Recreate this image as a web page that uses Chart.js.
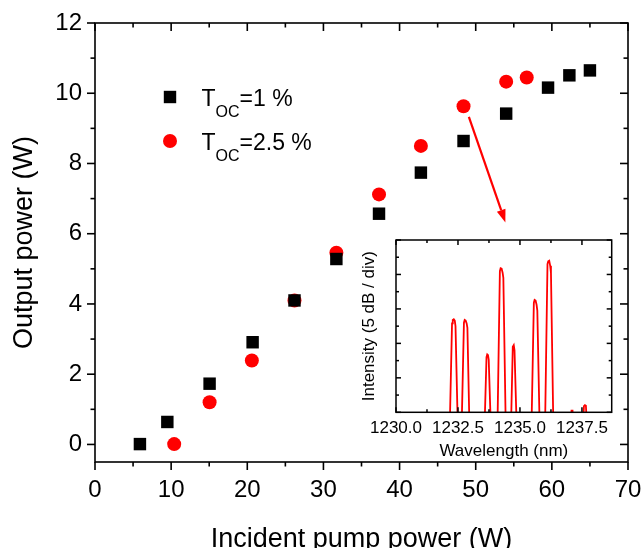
<!DOCTYPE html>
<html>
<head>
<meta charset="utf-8">
<script src="https://cdn.jsdelivr.net/npm/chart.js@4.4.1/dist/chart.umd.min.js"></script>
<style>
  body { margin: 0; background: #fff; }
  #wrap { position: relative; width: 644px; height: 548px; }
  #main { position: absolute; left: 0; top: 0; }
  #inset { position: absolute; left: 340px; top: 228px; }
</style>
</head>
<body>
<div id="wrap">
  <canvas id="main" width="644" height="548"></canvas>
  <canvas id="inset" width="290" height="240"></canvas>
</div>
<script>
const FONT = '"Liberation Sans", Arial, Helvetica, sans-serif';

// output power vs incident pump power, T_OC = 1 %
const pump1 = [5.9, 9.5, 15.05, 20.7, 26.2, 31.7, 37.3, 42.8, 48.4, 54.0, 59.5, 62.3, 65.0];
const out1  = [0.01, 0.64, 1.73, 2.91, 4.10, 5.28, 6.57, 7.74, 8.64, 9.42, 10.16, 10.51, 10.65];
// T_OC = 2.5 %
const pump2 = [10.4, 15.05, 20.6, 26.2, 31.7, 37.3, 42.8, 48.4, 54.0, 56.7];
const out2  = [0.01, 1.20, 2.39, 4.10, 5.46, 7.12, 8.50, 9.63, 10.33, 10.45];

const legendItems = [
  { sub: 'OC', text: '=1 %', color: '#000000', shape: 'rect' },
  { sub: 'OC', text: '=2.5 %', color: '#ff0000', shape: 'circle' }
];

// arrow from the 48 W point down to the inset (data units)
const arrowFrom = [49.1, 9.33];
const arrowTo = [53.9, 6.32];

// inset spectrum, intensity in divisions of 5 dB
const specWl = [1230.0, 1232.15, 1232.26, 1232.29, 1232.33, 1232.37, 1232.40, 1232.51,
  1232.63, 1232.74, 1232.77, 1232.81, 1232.85, 1232.88, 1232.98,
  1233.55, 1233.65, 1233.68, 1233.71, 1233.74, 1233.85,
  1234.08, 1234.19, 1234.22, 1234.26, 1234.30, 1234.33, 1234.44,
  1234.62, 1234.71, 1234.75, 1234.78, 1234.89,
  1235.45, 1235.56, 1235.59, 1235.63, 1235.67, 1235.70, 1235.81,
  1236.00, 1236.11, 1236.14, 1236.18, 1236.22, 1236.25, 1236.36,
  1237.02, 1237.08, 1237.12, 1237.18,
  1237.50, 1237.58, 1237.62, 1237.66, 1237.74, 1238.7];
const specDb = [-1, -1, 2.58, 2.68, 2.70, 2.66, 2.50, -1,
  -1, 2.60, 2.68, 2.66, 2.58, 2.45, -1,
  -1, 1.60, 1.68, 1.66, 1.52, -1,
  -1, 4.10, 4.18, 4.17, 4.05, 3.90, -1,
  -1, 1.90, 1.95, 1.80, -1,
  -1, 3.18, 3.26, 3.24, 3.12, 2.95, -1,
  -1, 4.30, 4.38, 4.40, 4.25, 4.05, -1,
  -1, 0.05, 0.05, -1,
  -1, 0.18, 0.21, 0.19, -1, -1];

// box + ticks on all four sides
const frameTicks = {
  id: 'frame',
  afterDraw(chart, args, o) {
    const {ctx, chartArea: a, scales: {x, y}} = chart;
    ctx.save();
    ctx.strokeStyle = '#000';
    ctx.lineWidth = o.lineWidth;
    ctx.lineCap = 'square';
    ctx.strokeRect(a.left, a.top, a.right - a.left, a.bottom - a.top);
    const seg = (x1, y1, x2, y2) => { ctx.beginPath(); ctx.moveTo(x1, y1); ctx.lineTo(x2, y2); ctx.stroke(); };
    const marks = (s, step, minor) => {
      const out = [];
      const k0 = Math.ceil(s.min / minor - 1e-6), k1 = Math.floor(s.max / minor + 1e-6);
      for (let k = k0; k <= k1; k++) {
        const v = k * minor;
        out.push({ v, major: Math.abs(v / step - Math.round(v / step)) < 1e-6 });
      }
      return out;
    };
    ctx.lineCap = 'butt';
    marks(x, o.xStep, o.xMinor).forEach(t => {
      const px = x.getPixelForValue(t.v);
      const len = t.major ? o.major : o.minor;
      seg(px, a.bottom, px, a.bottom + o.outDir * len);
      seg(px, a.top, px, a.top + len);
    });
    marks(y, o.yStep, o.yMinor).forEach(t => {
      const py = y.getPixelForValue(t.v);
      const len = t.major ? o.major : o.minor;
      seg(a.left, py, a.left - o.outDir * len, py);
      seg(a.right, py, a.right - len, py);
    });
    ctx.restore();
  }
};
Chart.register(frameTicks);

const extras = {
  id: 'extras',
  afterDatasetsDraw(chart) {
    const {ctx, chartArea: a, scales: {x, y}} = chart;
    ctx.save();
    // legend
    legendItems.forEach((it, i) => {
      const mx = a.left + 75, my = a.top + 74 + i * 44;
      ctx.fillStyle = it.color;
      if (it.shape === 'rect') {
        ctx.fillRect(mx - 6.2, my - 6.2, 12.4, 12.4);
      } else {
        ctx.beginPath(); ctx.arc(mx, my, 7, 0, Math.PI * 2); ctx.fill();
      }
      ctx.fillStyle = '#000';
      ctx.textBaseline = 'alphabetic';
      ctx.textAlign = 'left';
      let tx = a.left + 106.5;
      const by = my + 8.5;
      ctx.font = '23px ' + FONT;
      ctx.fillText('T', tx, by);
      tx += ctx.measureText('T').width;
      ctx.font = '16px ' + FONT;
      ctx.fillText(it.sub, tx, by + 11);
      tx += ctx.measureText(it.sub).width;
      ctx.font = '23px ' + FONT;
      ctx.fillText(it.text, tx, by);
    });
    // arrow
    const x1 = x.getPixelForValue(arrowFrom[0]), y1 = y.getPixelForValue(arrowFrom[1]);
    const x2 = x.getPixelForValue(arrowTo[0]), y2 = y.getPixelForValue(arrowTo[1]);
    const ang = Math.atan2(y2 - y1, x2 - x1);
    const hl = 13, hw = 4.5;
    const bx = x2 - hl * Math.cos(ang), by2 = y2 - hl * Math.sin(ang);
    ctx.strokeStyle = '#ff0000';
    ctx.fillStyle = '#ff0000';
    ctx.lineWidth = 2.2;
    ctx.beginPath(); ctx.moveTo(x1, y1); ctx.lineTo(bx, by2); ctx.stroke();
    ctx.beginPath();
    ctx.moveTo(x2, y2);
    ctx.lineTo(bx + hw * Math.sin(ang), by2 - hw * Math.cos(ang));
    ctx.lineTo(bx - hw * Math.sin(ang), by2 + hw * Math.cos(ang));
    ctx.closePath(); ctx.fill();
    ctx.restore();
  }
};

const mainChart = new Chart(document.getElementById('main'), {
  type: 'scatter',
  data: {
    datasets: [
      {
        label: 'T_OC=1 %',
        data: pump1.map((p, i) => ({ x: p, y: out1[i] })),
        pointStyle: 'rect',
        pointRadius: 8.8,
        borderWidth: 0,
        backgroundColor: '#000000',
        borderColor: '#000000'
      },
      {
        label: 'T_OC=2.5 %',
        data: pump2.map((p, i) => ({ x: p, y: out2[i] })),
        pointStyle: 'circle',
        pointRadius: 7,
        borderWidth: 0,
        backgroundColor: '#ff0000',
        borderColor: '#ff0000'
      }
    ]
  },
  options: {
    responsive: false,
    animation: false,
    events: [],
    layout: { padding: { top: 23, right: 16, left: 0, bottom: 0 } },
    plugins: {
      legend: { display: false },
      tooltip: { enabled: false },
      frame: { lineWidth: 1.6, major: 8, minor: 4.5, outDir: 1, xStep: 10, xMinor: 5, yStep: 2, yMinor: 1 }
    },
    scales: {
      x: {
        type: 'linear', min: 0, max: 70,
        afterFit: s => { s.height = 86; },
        border: { display: false },
        grid: { display: false, drawTicks: true, tickLength: 12 },
        ticks: { stepSize: 10, includeBounds: false, color: '#000', padding: 2, maxRotation: 0,
          font: { family: FONT, size: 24 } },
        title: { display: true, text: 'Incident pump power (W)', color: '#000',
          font: { family: FONT, size: 27, lineHeight: 1 }, padding: { top: 0, bottom: -5 } }
      },
      y: {
        type: 'linear', min: -0.5, max: 12,
        afterFit: s => { s.width = 95; },
        border: { display: false },
        grid: { display: false, drawTicks: true, tickLength: 11 },
        ticks: { stepSize: 2, includeBounds: false, color: '#000', padding: 2,
          font: { family: FONT, size: 24 } },
        title: { display: true, text: 'Output power (W)', color: '#000',
          font: { family: FONT, size: 27, lineHeight: 1 }, padding: { top: 11, bottom: 0 } }
      }
    }
  },
  plugins: [extras]
});

const insetChart = new Chart(document.getElementById('inset'), {
  type: 'line',
  data: {
    datasets: [{
      data: specWl.map((w, i) => ({ x: w, y: specDb[i] })),
      borderColor: '#ff0000',
      borderWidth: 1.8,
      pointRadius: 0,
      tension: 0,
      fill: false
    }]
  },
  options: {
    responsive: false,
    animation: false,
    events: [],
    layout: { padding: { top: 12, right: 18.3, left: 0, bottom: 0 } },
    plugins: {
      legend: { display: false },
      tooltip: { enabled: false },
      frame: { lineWidth: 1.5, major: 5, minor: 3, outDir: -1, xStep: 2.5, xMinor: 1.25, yStep: 1, yMinor: 0.5 }
    },
    scales: {
      x: {
        type: 'linear', min: 1230, max: 1238.7,
        afterFit: s => { s.height = 55.7; },
        border: { display: false },
        grid: { display: false, drawTicks: false },
        ticks: { stepSize: 2.5, includeBounds: false, color: '#000', padding: 6, maxRotation: 0, autoSkip: false,
          callback: v => Number(v).toFixed(1),
          font: { family: FONT, size: 17 } },
        title: { display: true, text: 'Wavelength (nm)', color: '#000',
          font: { family: FONT, size: 17, lineHeight: 1 }, padding: { top: 0, bottom: 8 } }
      },
      y: {
        type: 'linear', min: 0, max: 5,
        afterFit: s => { s.width = 56; },
        border: { display: false },
        grid: { display: false, drawTicks: false },
        ticks: { display: false, stepSize: 1 },
        title: { display: true, text: 'Intensity (5 dB / div)', color: '#000',
          font: { family: FONT, size: 17, lineHeight: 1 }, padding: { top: 20.5, bottom: 0 } }
      }
    }
  }
});
</script>
</body>
</html>
